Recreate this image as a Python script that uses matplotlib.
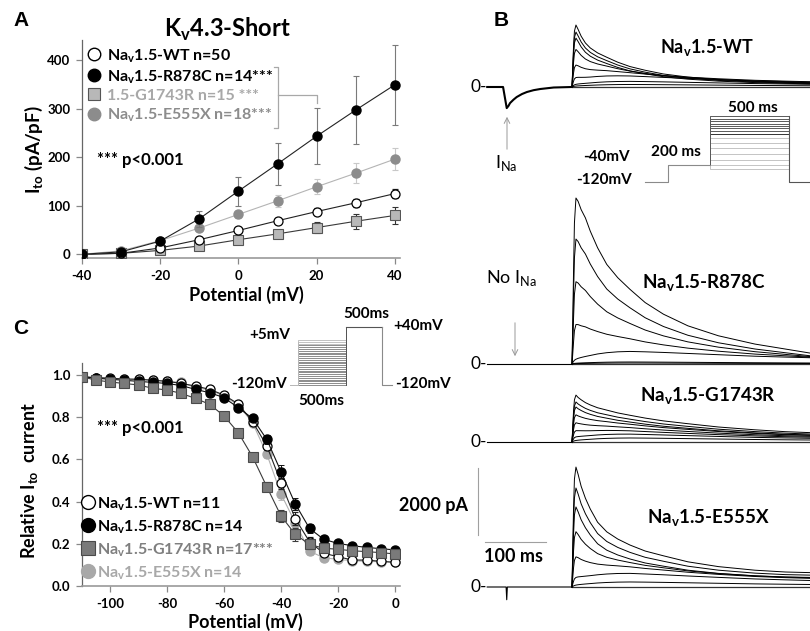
import matplotlib
matplotlib.use("Agg")
import matplotlib.pyplot as plt
from matplotlib.lines import Line2D

plt.rcParams['font.family'] = ['Lato', 'DejaVu Sans']
plt.rcParams['font.weight'] = 'bold'

W, H = 810, 631

# ---------------- Panel A data: Kv4.3-Short I-V ----------------
volt_A = [-40, -30, -20, -10, 0, 10, 20, 30, 40]
ito_wt = [0, 2, 13, 30, 49, 69, 88, 106, 125]
ito_wt_err = [0, 1, 2, 4, 5, 6, 7, 8, 10]
ito_r878c = [0, 5, 27, 73, 130, 186, 243, 297, 349]
ito_r878c_err = [0, 2, 5, 16, 30, 44, 58, 70, 82]
ito_g1743r = [0, 2, 8, 17, 30, 42, 55, 68, 80]
ito_g1743r_err = [0, 1, 2, 4, 6, 9, 12, 15, 17]
ito_e555x = [0, 7, 28, 54, 82, 110, 139, 167, 196]
ito_e555x_err = [0, 1, 3, 6, 8, 12, 15, 20, 22]
xticks_A = [-40, -20, 0, 20, 40]
yticks_A = [0, 100, 200, 300, 400]
labels_A = ['Na$_\\mathregular{v}$1.5-WT n=50',
            'Na$_\\mathregular{v}$1.5-R878C n=14***',
            '1.5-G1743R n=15 ***',
            'Na$_\\mathregular{v}$1.5-E555X n=18***']

# ---------------- Panel C data: steady-state inactivation ----------------
volt_C = [-110, -105, -100, -95, -90, -85, -80, -75, -70, -65, -60, -55,
          -50, -45, -40, -35, -30, -25, -20, -15, -10, -5, 0]
inact_wt = [0.992, 0.988, 0.985, 0.981, 0.980, 0.975, 0.970, 0.960, 0.948, 0.932, 0.905, 0.863,
            0.779, 0.665, 0.490, 0.319, 0.210, 0.155, 0.139, 0.123, 0.123, 0.117, 0.112]
inact_r878c = [0.992, 0.985, 0.980, 0.975, 0.970, 0.965, 0.960, 0.950, 0.932, 0.916, 0.893, 0.845,
               0.795, 0.695, 0.542, 0.389, 0.273, 0.221, 0.202, 0.191, 0.183, 0.177, 0.171]
inact_g1743r = [0.992, 0.976, 0.967, 0.960, 0.953, 0.937, 0.929, 0.913, 0.889, 0.861, 0.806, 0.727,
                0.613, 0.471, 0.332, 0.245, 0.197, 0.179, 0.174, 0.167, 0.163, 0.158, 0.152]
inact_e555x = [0.992, 0.987, 0.983, 0.981, 0.979, 0.976, 0.971, 0.965, 0.940, 0.930, 0.900, 0.858,
               0.774, 0.626, 0.436, 0.300, 0.165, 0.134, 0.126, 0.120, 0.117, 0.115, 0.114]
inact_err = [0.005, 0.005, 0.005, 0.005, 0.006, 0.006, 0.007, 0.008, 0.008, 0.01, 0.01, 0.012,
             0.015, 0.02, 0.03, 0.03, 0.02, 0.015, 0.01, 0.01, 0.01, 0.01, 0.01]
xticks_C = [-100, -80, -60, -40, -20, 0]
yticks_C = [0.0, 0.2, 0.4, 0.6, 0.8, 1.0]
labels_C = ['Na$_\\mathregular{v}$1.5-WT n=11',
            'Na$_\\mathregular{v}$1.5-R878C n=14',
            'Na$_\\mathregular{v}$1.5-G1743R n=17***',
            'Na$_\\mathregular{v}$1.5-E555X n=14']

# ---------------- Panel B data: current traces ----------------
# normalised time course of Ito after the test step (ms)
prof_t = [0, 1, 2.5, 4, 6.5, 10, 15, 22, 30, 42, 57, 75, 95, 120, 150, 190, 240, 300, 350, 390]
prof = {
    'WT':    [0, .25, .65, .9, 1, .93, .82, .71, .63, .55, .48, .40, .33, .27, .21, .16, .12, .09, .075, .065],
    'R878C': [0, .2, .55, .85, 1, .98, .93, .88, .80, .70, .60, .52, .45, .37, .30, .23, .17, .12, .09, .066],
    'G1743R': [0, .25, .65, .9, 1, .95, .90, .84, .79, .73, .68, .62, .57, .51, .45, .39, .32, .26, .22, .20],
    'E555X': [0, .25, .65, .9, 1, .94, .84, .74, .65, .54, .46, .40, .35, .30, .26, .21, .17, .14, .125, .12],
}
prof_slow = [0, .1, .2, .3, .38, .45, .52, .6, .68, .8, .9, .97, 1, .97, .92, .84, .74, .62, .55, .5]
# peak amplitude (pA) of each sweep and its share of the slow time course
peaks = {
    'WT':    [1850, 1640, 1460, 1195, 805, 450, 180, 75],
    'R878C': [4955, 3730, 2535, 1345, 375, 60, 30],
    'G1743R': [1400, 1195, 1045, 865, 655, 450, 270, 120],
    'E555X': [3580, 2955, 2390, 1760, 1105, 505, 150],
}
slow_share = {
    'WT':    [0, 0, 0, 0.1, 0.3, 0.6, 0.9, 1],
    'R878C': [0, 0, 0.05, 0.2, 1, 1, 1],
    'G1743R': [0, 0, 0, 0.1, 0.2, 0.4, 0.7, 1],
    'E555X': [0, 0, 0, 0.1, 0.3, 0.7, 1],
}
# holding segment before the test step (ms, pA); WT shows I_Na at the -40 mV prepulse
pre = {
    'WT':    ([-139, -113, -107, -104, -101.6, -96, -90.7, -82, -74, -63, -52, -30, 0],
              [0, 0, -630, -560, -480, -380, -300, -210, -150, -95, -60, -15, 0]),
    'R878C': ([-139, 0], [0, 0]),
    'G1743R': ([-139, 0], [0, 0]),
    'E555X': ([-139, -108, -107, -106, 0], [0, 0, -380, 0, 0]),
}
names_B = {'WT': 'Na$_\\mathregular{v}$1.5-WT', 'R878C': 'Na$_\\mathregular{v}$1.5-R878C',
           'G1743R': 'Na$_\\mathregular{v}$1.5-G1743R', 'E555X': 'Na$_\\mathregular{v}$1.5-E555X'}
scale_pA, scale_ms = 2000, 100

# voltage protocols (schematic)
protB_hold, protB_pre = -120, -40
protB_test = [185, 173, 162, 151, 140, 130, 117, 102, 84, 60, 37, 10, -17, -40, -58]
protB_len = [110, 200, 376, 100]
protC_hold, protC_test = -120, 40
protC_pre = [-120, -115, -110, -105, -100, -95, -90, -85, -80, -75, -70, -65, -60,
             -55, -50, -45, -40, -35, -30, -25, -20, -15, -10, -5, 0, 5]
protC_len = [84, 500, 380, 105]

# ---------------- helpers ----------------
fig = plt.figure(figsize=(W / 100, H / 100), dpi=100)


def rect(x0, y0, x1, y1):
    return [x0 / W, 1 - y1 / H, (x1 - x0) / W, (y1 - y0) / H]


def ftext(x, y, s, **kw):
    kw.setdefault('ha', 'left')
    kw.setdefault('va', 'center')
    return fig.text(x / W, 1 - y / H, s, **kw)


def fline(xs, ys, **kw):
    fig.add_artist(Line2D([x / W for x in xs], [1 - y / H for y in ys],
                          transform=fig.transFigure, **kw))


def style_axis(ax, xt, yt, xfmt, yfmt):
    for s in ('top', 'right'):
        ax.spines[s].set_visible(False)
    ax.spines['left'].set_color('#666666')
    ax.spines['left'].set_linewidth(0.9)
    ax.spines['bottom'].set_color('#9a9a9a')
    ax.spines['bottom'].set_linewidth(1.2)
    ax.set_xticks(xt)
    ax.set_yticks(yt)
    ax.set_xticklabels([xfmt(v) for v in xt])
    ax.set_yticklabels([yfmt(v) for v in yt])
    ax.tick_params(axis='both', direction='out', length=4, width=0.9, color='#888888',
                   labelsize=9.5)
    ax.tick_params(axis='x', pad=5)
    ax.tick_params(axis='y', pad=4)
    for lab in ax.get_xticklabels() + ax.get_yticklabels():
        lab.set_fontweight('bold')
    ax.set_facecolor('none')


# ---------------- Panel A ----------------
axA = fig.add_axes(rect(81.7, 40, 400, 257.7))
axA.set_xlim(-40, 41.28)
axA.set_ylim(-7, 441)
ekw = dict(capsize=2.5, elinewidth=0.8, capthick=0.8, lw=0.8, ms=6.5)
axA.errorbar(volt_A, ito_g1743r, yerr=ito_g1743r_err, color='#3a3a3a', marker='s',
             mfc='#b8b8b8', mec='#555555', mew=0.8, ecolor='#333333', zorder=3, **ekw)
axA.errorbar(volt_A, ito_wt, yerr=ito_wt_err, color='#222222', marker='o',
             mfc='white', mec='black', mew=0.9, ecolor='#222222', zorder=4, **ekw)
axA.errorbar(volt_A, ito_e555x, yerr=ito_e555x_err, color='#b4b4b4', marker='o',
             mfc='#8c8c8c', mec='#8c8c8c', ecolor='#c8c8c8', zorder=5, **ekw)
axA.errorbar(volt_A, ito_r878c, yerr=ito_r878c_err, color='#222222', marker='o',
             mfc='black', mec='black', ecolor='#7a7a7a', zorder=6, **ekw)
style_axis(axA, xticks_A, yticks_A, lambda v: f'{v:d}', lambda v: f'{v:d}')
axA.set_xlabel('Potential (mV)', fontsize=13, fontweight='bold')
axA.xaxis.label.set_va('center')
axA.xaxis.set_label_coords(0.516, -0.171)
axA.set_ylabel('I$_\\mathregular{to}$ (pA/pF)', fontsize=13.5, fontweight='bold')
axA.yaxis.label.set_va('center')
axA.yaxis.set_label_coords(-0.150, 0.495)

hA = [Line2D([], [], ls='none', marker='o', ms=9, mfc='white', mec='black', mew=1.0),
      Line2D([], [], ls='none', marker='o', ms=9, mfc='black', mec='black'),
      Line2D([], [], ls='none', marker='s', ms=9, mfc='#b8b8b8', mec='#555555', mew=0.8),
      Line2D([], [], ls='none', marker='o', ms=9, mfc='#8c8c8c', mec='#8c8c8c')]
axA.legend(hA, labels_A, loc='upper left', bbox_to_anchor=(88 / W, 1 - 47 / H),
           bbox_transform=fig.transFigure, frameon=False,
           prop={'size': 11.5, 'weight': 'bold'}, handlelength=0.8, handletextpad=0.42,
           labelspacing=0.2, borderpad=0, borderaxespad=0,
           labelcolor=['black', 'black', '#a8a8a8', '#8c8c8c'])
fline([274, 278, 278, 274], [67, 67, 128, 128], color='#a8a8a8', lw=0.9)
fline([278, 317, 317], [95, 95, 103], color='#a8a8a8', lw=0.9)
ftext(97, 160, '*** p<0.001', fontsize=12)
ftext(228, 29, 'K$_\\mathregular{v}$4.3-Short', ha='center', fontsize=17)

# ---------------- Panel C ----------------
axC = fig.add_axes(rect(81.5, 363, 400, 586))
axC.set_xlim(-110, 1.75)
axC.set_ylim(0, 1.057)
ckw = dict(capsize=2, elinewidth=0.7, capthick=0.7, lw=0.8, ms=6.5)
axC.errorbar(volt_C, inact_e555x, yerr=inact_err, color='#b0b0b0', marker='o',
             mfc='#a8a8a8', mec='#a8a8a8', ecolor='#b8b8b8', zorder=3, **ckw)
axC.errorbar(volt_C, inact_wt, yerr=inact_err, color='#222222', marker='o',
             mfc='white', mec='black', mew=0.9, ecolor='#222222', zorder=4, **ckw)
axC.errorbar(volt_C, inact_r878c, yerr=inact_err, color='#111111', marker='o',
             mfc='black', mec='black', ecolor='#111111', zorder=5, **ckw)
axC.errorbar(volt_C, inact_g1743r, yerr=inact_err, color='#3a3a3a', marker='s',
             mfc='#7a7a7a', mec='#4a4a4a', mew=0.8, ecolor='#3a3a3a', zorder=6, **ckw)
style_axis(axC, xticks_C, yticks_C, lambda v: f'{v:d}', lambda v: f'{v:.1f}')
axC.set_xlabel('Potential (mV)', fontsize=13, fontweight='bold')
axC.xaxis.label.set_va('center')
axC.xaxis.set_label_coords(0.516, -0.161)
axC.set_ylabel('Relative I$_\\mathregular{to}$  current', fontsize=13, fontweight='bold')
axC.yaxis.label.set_va('center')
axC.yaxis.set_label_coords(-0.162, 0.475)

hC = [Line2D([], [], ls='none', marker='o', ms=10, mfc='white', mec='black', mew=1.0),
      Line2D([], [], ls='none', marker='o', ms=10, mfc='black', mec='black'),
      Line2D([], [], ls='none', marker='s', ms=10, mfc='#7a7a7a', mec='#4a4a4a', mew=0.8),
      Line2D([], [], ls='none', marker='o', ms=10, mfc='#a8a8a8', mec='#a8a8a8')]
axC.legend(hC, labels_C, loc='upper left', bbox_to_anchor=(82 / W, 1 - 495 / H),
           bbox_transform=fig.transFigure, frameon=False,
           prop={'size': 11.5, 'weight': 'bold'}, handlelength=0.8, handletextpad=0.15,
           labelspacing=0.33, borderpad=0, borderaxespad=0,
           labelcolor=['black', 'black', '#7f7f7f', '#a8a8a8'])
ftext(97, 428, '*** p<0.001', fontsize=12)

# Panel C protocol inset
axPC = fig.add_axes(rect(240, 305, 440, 400))
axPC.set_xlim(-524, 1572)
axPC.set_ylim(-161.7, 102.2)
axPC.axis('off')
t1 = protC_len[0]
t2 = t1 + protC_len[1]
t3 = t2 + protC_len[2]
t4 = t3 + protC_len[3]
for v in protC_pre:
    col = '#b8b8b8' if v > -10 else '#7a7a7a'
    axPC.plot([0, t1, t1, t2], [protC_hold, protC_hold, v, v], color=col, lw=0.6)
    axPC.plot([t2, t2], [v, protC_test], color='#555555', lw=0.7)
axPC.plot([t2, t3], [protC_test, protC_test], color='#555555', lw=0.8)
axPC.plot([t3, t3, t4], [protC_test, protC_hold, protC_hold], color='#8a8a8a', lw=0.8)
ftext(290, 335, '+5mV', ha='right', fontsize=11)
ftext(287, 384, '-120mV', ha='right', fontsize=11)
ftext(321, 401, '500ms', ha='center', fontsize=11)
ftext(366, 314, '500ms', ha='center', fontsize=11)
ftext(393, 326, '+40mV', fontsize=11)
ftext(395, 384, '-120mV', fontsize=11)

# ---------------- Panel B ----------------
s_pA = 29.85           # pA per pixel
xlimB = (-216.4, 390.2)
baselines = {'WT': 87, 'R878C': 364, 'G1743R': 442, 'E555X': 587}
axesB = {}
for key, b in baselines.items():
    ax = fig.add_axes(rect(440, b - 190, 810, b + 30))
    ax.set_xlim(*xlimB)
    ax.set_ylim(-30 * s_pA, 190 * s_pA)
    ax.axis('off')
    ax.set_facecolor('none')
    axesB[key] = ax
    tp, ip = pre[key]
    ax.plot(tp, ip, color='black', lw=1.5 if key == 'WT' else 0.8)
    ax.plot(prof_t, [0] * len(prof_t), color='#333333', lw=0.9)
    for amp, w in zip(peaks[key], slow_share[key]):
        y = [amp * ((1 - w) * f + w * s) for f, s in zip(prof[key], prof_slow)]
        ax.plot(prof_t, y, color='black', lw=0.7)
    ftext(487, b, '0-', ha='right', fontsize=12.5, fontweight='normal')

ftext(660, 47, names_B['WT'], fontsize=13)
ftext(642, 283, names_B['R878C'], fontsize=13.5)
ftext(640, 396, names_B['G1743R'], fontsize=13.5)
ftext(647, 518, names_B['E555X'], fontsize=13.5)

# scale bars on the E555X axes
axE = axesB['E555X']
bar_t, bar_y = -154, 1552
axE.plot([bar_t, bar_t], [bar_y, bar_y + scale_pA], color='#a0a0a0', lw=0.8)
axE.plot([-142.6, -142.6 + scale_ms], [1343, 1343], color='#a0a0a0', lw=0.8)
ftext(468, 505, f'{scale_pA} pA', ha='right', fontsize=13)
ftext(514, 557, f'{scale_ms} ms', ha='center', fontsize=13)

# I_Na annotations
ftext(495, 163, 'I$_\\mathregular{Na}$', fontsize=13, fontweight='normal')
fig.add_artist(plt.Annotation('', xy=(507 / W, 1 - 114 / H), xytext=(507 / W, 1 - 152 / H),
                              xycoords='figure fraction',
                              arrowprops=dict(arrowstyle='->', color='#999999', lw=0.7)))
ftext(486, 278, 'No I$_\\mathregular{Na}$', fontsize=13, fontweight='normal')
fig.add_artist(plt.Annotation('', xy=(515 / W, 1 - 359 / H), xytext=(515 / W, 1 - 320 / H),
                              xycoords='figure fraction',
                              arrowprops=dict(arrowstyle='->', color='#999999', lw=0.7)))

# Panel B protocol inset
axPB = fig.add_axes(rect(600, 95, 810, 195))
axPB.set_xlim(-214, 785.7)
axPB.set_ylim(-178.7, 283.7)
axPB.axis('off')
b1 = protB_len[0]
b2 = b1 + protB_len[1]
b3 = b2 + protB_len[2]
b4 = b3 + protB_len[3]
for i in sorted(range(len(protB_test)), key=lambda k: -k):
    v = protB_test[i]
    col = '#c4c4c4' if i >= 8 else ('#333333' if i == 7 else '#5a5a5a')
    axPB.plot([b2, b2, b3], [protB_pre, v, v], color=col, lw=0.7)
axPB.plot([0, b1, b1, b2], [protB_hold, protB_hold, protB_pre, protB_pre], color='#8a8a8a', lw=0.8)
axPB.plot([b3, b3, b4], [max(protB_test), protB_hold, protB_hold], color='#555555', lw=0.8)
ftext(753, 108, '500 ms', ha='center', fontsize=11)
ftext(676, 152, '200 ms', ha='center', fontsize=11)
ftext(630, 157, '-40mV', ha='right', fontsize=11)
ftext(632, 180, '-120mV', ha='right', fontsize=11)

# panel letters
for lx, ly, letter in ((21, 20, 'A'), (501, 20, 'B'), (21, 328, 'C')):
    ftext(lx, ly, letter, ha='center', fontsize=15, family=['Liberation Sans', 'DejaVu Sans'])

fig.savefig('out.png', dpi=100)
